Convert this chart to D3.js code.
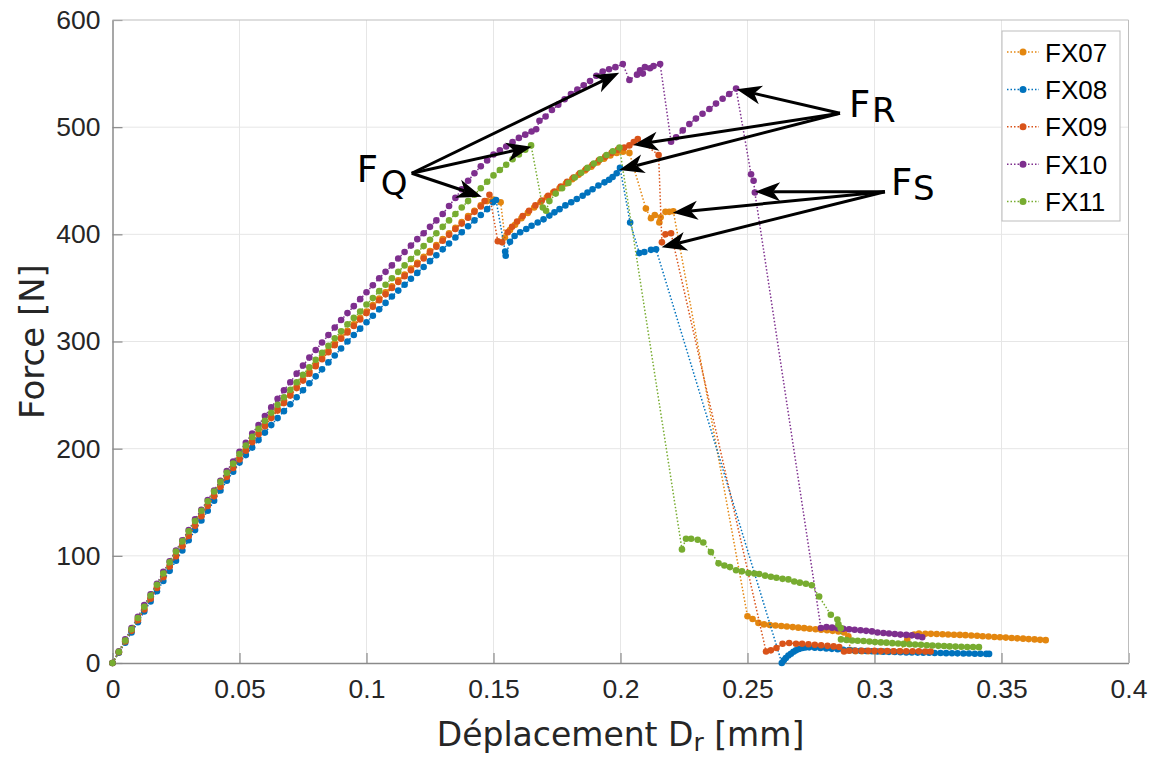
<!DOCTYPE html>
<html>
<head>
<meta charset="utf-8">
<script src="https://cdn.jsdelivr.net/npm/d3@7"></script>
<style>
  body { margin: 0; background: #fff; }
  svg { display: block; }
</style>
</head>
<body>
<div id="chart"></div>
<script>
// Force / displacement curves, [displacement mm, force N]
const fx07 = [[0,0],[0.0025,10],[0.005,20],[0.0075,30],[0.01,40.5],[0.0125,50.5],[0.015,60.5],[0.0175,70.5],[0.02,80.5],[0.0225,90.5],[0.025,100.5],[0.0275,110],[0.03,119.5],[0.0325,129],[0.035,138.5],[0.0375,147.5],[0.04,156.5],[0.0425,165.5],[0.045,174.5],[0.0475,183],[0.05,191.5],[0.0525,199.5],[0.055,207.5],[0.0575,215],[0.06,222.5],[0.0625,230],[0.065,237],[0.0675,244],[0.07,251],[0.0725,258],[0.075,265],[0.0775,272],[0.08,278.5],[0.0825,285],[0.085,291.5],[0.0875,298],[0.09,304],[0.0925,310],[0.095,316],[0.0975,322],[0.1,328],[0.1025,334],[0.105,340],[0.1075,346],[0.11,351.5],[0.1125,357],[0.115,362.5],[0.1175,368],[0.12,373.5],[0.1225,379],[0.125,384.5],[0.1275,390],[0.13,395.5],[0.1325,401],[0.135,406],[0.1375,411.5],[0.14,417],[0.1425,422],[0.145,427],[0.1475,431],[0.15,432.5],[0.1528,430],[0.1545,397],[0.1565,404],[0.1585,409],[0.161,415],[0.1635,420],[0.166,425],[0.1685,430],[0.171,434.5],[0.1735,439],[0.176,443],[0.1785,447.5],[0.181,451.5],[0.1835,455.5],[0.186,459.5],[0.1885,463],[0.191,467],[0.1935,470.5],[0.196,473.5],[0.1985,476],[0.201,477],[0.2035,476],[0.21,424],[0.212,415],[0.2135,418],[0.2153,411],[0.2158,416],[0.2177,421],[0.2192,421],[0.2208,421.5],[0.25,43.6],[0.252,41],[0.2543,37.4],[0.2565,36],[0.2588,35.5],[0.261,35],[0.2633,34.5],[0.2655,34],[0.2678,33.5],[0.27,33],[0.2723,32.5],[0.2745,32],[0.2768,31.5],[0.279,31],[0.2813,30.5],[0.2835,30],[0.2858,29.5],[0.288,28.5],[0.2897,25],[0.2905,12],[0.2925,11],[0.295,11],[0.2975,11],[0.3,11],[0.3025,10.8],[0.305,10.8],[0.3075,10.8],[0.31,11],[0.3129,21.8],[0.3156,26.5],[0.3175,27.4],[0.32,27.3],[0.3222,27.2],[0.3245,27],[0.3268,26.8],[0.329,26.6],[0.3313,26.4],[0.3336,26.2],[0.3358,26],[0.3381,25.7],[0.3404,25.4],[0.3426,25],[0.3449,24.7],[0.3472,24.3],[0.3494,24],[0.3517,23.7],[0.354,23.3],[0.3562,23],[0.3585,22.7],[0.3607,22.3],[0.363,22],[0.3652,21.6],[0.3674,21.3]];

const fx08 = [[0,0],[0.0025,9.5],[0.005,19],[0.0075,28.5],[0.01,38],[0.0125,48],[0.015,57.5],[0.0175,67],[0.02,76.5],[0.0225,86],[0.025,95.5],[0.0275,105],[0.03,114.5],[0.0325,124],[0.035,133],[0.0375,142],[0.04,151.5],[0.0425,161],[0.045,170],[0.0475,178.5],[0.05,187],[0.0525,194],[0.055,201],[0.0575,208],[0.06,215],[0.0625,222],[0.065,228.5],[0.0675,235],[0.07,241.5],[0.0725,248],[0.075,254.5],[0.0775,261],[0.08,267.5],[0.0825,274],[0.085,280.5],[0.0875,287],[0.09,293.5],[0.0925,300],[0.095,306],[0.0975,312],[0.1,318],[0.1025,324],[0.105,330],[0.1075,336],[0.11,342],[0.1125,347.5],[0.115,353],[0.1175,358.5],[0.12,364],[0.1225,369.5],[0.125,375],[0.1275,380.5],[0.13,386],[0.1325,391.5],[0.135,397],[0.1375,402],[0.14,407.5],[0.1425,413],[0.145,418],[0.1475,423.5],[0.1498,430],[0.151,432],[0.1546,384],[0.1548,380],[0.1565,393],[0.1583,398.5],[0.1605,402],[0.1629,405],[0.165,408],[0.1674,411],[0.1697,414],[0.172,417.5],[0.174,420.5],[0.176,423.5],[0.1783,427],[0.1806,430],[0.1828,433],[0.1851,436],[0.187,439],[0.189,442],[0.1913,445.5],[0.1937,448.5],[0.1955,451],[0.1969,453.5],[0.1985,457],[0.1998,462],[0.2038,411],[0.2074,382.5],[0.2094,383.5],[0.212,385.5],[0.214,386],[0.2635,0],[0.2643,2.5],[0.2651,4.7],[0.2661,7],[0.2671,8.7],[0.2681,10.5],[0.2691,11.8],[0.2703,13],[0.2716,14],[0.2728,14.5],[0.2743,14.6],[0.2765,14.3],[0.2787,14],[0.281,13.6],[0.2832,13.2],[0.2855,12.8],[0.2877,12.4],[0.29,12],[0.2922,11.7],[0.2945,11.4],[0.2967,11.2],[0.299,11],[0.3012,10.8],[0.3035,10.6],[0.3057,10.4],[0.308,10.2],[0.3102,10],[0.3125,9.9],[0.3147,9.8],[0.317,9.7],[0.3192,9.6],[0.3215,9.5],[0.3237,9.4],[0.326,9.3],[0.3282,9.2],[0.3305,9.1],[0.3327,9],[0.335,8.9],[0.3372,8.8],[0.3395,8.7],[0.3417,8.6],[0.344,8.5],[0.3451,8.5]];

const fx09 = [[0,0],[0.0025,10],[0.005,20],[0.0075,30],[0.01,40],[0.0125,50],[0.015,60],[0.0175,70],[0.02,80],[0.0225,90],[0.025,99.5],[0.0275,109],[0.03,118.5],[0.0325,128],[0.035,137],[0.0375,146.5],[0.04,155.5],[0.0425,164.5],[0.045,173.5],[0.0475,182],[0.05,190],[0.0525,198],[0.055,206],[0.0575,213.5],[0.06,221],[0.0625,228.5],[0.065,235.5],[0.0675,242.5],[0.07,249.5],[0.0725,256.5],[0.075,263.5],[0.0775,270],[0.08,277],[0.0825,283.5],[0.085,290],[0.0875,296.5],[0.09,302.5],[0.0925,308.5],[0.095,314.5],[0.0975,320.5],[0.1,326.5],[0.1025,332.5],[0.105,338.5],[0.1075,344],[0.11,350],[0.1125,355.5],[0.115,361],[0.1175,366.5],[0.12,372],[0.1225,377.5],[0.125,383],[0.1275,388.5],[0.13,394],[0.1325,399.5],[0.135,405],[0.1375,410],[0.14,415.5],[0.1425,421],[0.145,426],[0.1465,431],[0.1484,437],[0.1517,393.5],[0.1534,392.5],[0.1556,402],[0.1573,407],[0.1593,412],[0.1615,417],[0.164,422],[0.1665,427],[0.169,431.5],[0.1715,436],[0.174,440],[0.1765,444.5],[0.179,449],[0.1815,453],[0.184,457],[0.1865,461],[0.189,465],[0.1915,469],[0.194,472.5],[0.1965,476],[0.199,479],[0.2015,481],[0.2035,483],[0.2052,486],[0.2068,489],[0.215,474],[0.2163,392.5],[0.2177,400],[0.2199,401],[0.2573,10.8],[0.2592,11.8],[0.2614,14],[0.2638,18],[0.2664,18.7],[0.2691,18],[0.2715,18],[0.274,17.5],[0.2765,17],[0.279,16.5],[0.2815,16],[0.2839,15.5],[0.2861,15],[0.288,10.8],[0.29,11.5],[0.2925,11.5],[0.295,11.5],[0.2975,11.5],[0.3,11.3],[0.3025,11.2],[0.305,11.2],[0.3075,11],[0.31,11],[0.3125,11],[0.315,11],[0.3175,10.9],[0.32,10.8],[0.3221,10.8]];

const fx10 = [[0,0],[0.0025,11],[0.005,22],[0.0075,32.5],[0.01,43],[0.0125,54],[0.015,64],[0.0175,74],[0.02,85],[0.0225,95],[0.025,105],[0.0275,114.5],[0.03,124],[0.0325,134],[0.035,143],[0.0375,152],[0.04,161],[0.0425,170],[0.045,179],[0.0475,188],[0.05,197],[0.0525,205.5],[0.055,214],[0.0575,222],[0.06,230.5],[0.0625,238.5],[0.065,246.5],[0.0675,254.5],[0.07,262],[0.0725,270],[0.075,277.5],[0.0775,285],[0.08,292],[0.0825,299],[0.085,306],[0.0875,313],[0.09,320],[0.0925,326.5],[0.095,333],[0.0975,339.5],[0.1,346],[0.1025,352.5],[0.105,359],[0.1075,365],[0.11,371],[0.1125,377.5],[0.115,383.5],[0.1175,389.5],[0.12,395.5],[0.1225,401],[0.125,407],[0.1275,413],[0.13,419],[0.1325,426.5],[0.135,434],[0.1375,442],[0.14,450],[0.1425,457],[0.145,463.5],[0.1475,469],[0.15,474.5],[0.1525,478.5],[0.155,482],[0.1575,486],[0.16,490],[0.1625,493],[0.165,496],[0.1668,498],[0.1681,506],[0.1705,510],[0.173,516],[0.1755,521],[0.178,526],[0.1805,531],[0.183,535],[0.1855,539],[0.188,543],[0.1905,548],[0.193,552],[0.1955,554],[0.198,556],[0.2009,559],[0.2035,544],[0.2065,549],[0.2077,553],[0.2088,550],[0.2096,556],[0.2116,555],[0.213,557],[0.2156,559],[0.2199,486.5],[0.2219,490.5],[0.2245,497],[0.2271,503],[0.2297,508],[0.2323,512.5],[0.235,517],[0.2376,522],[0.2402,526.5],[0.2428,531],[0.2455,536],[0.2514,456],[0.2524,450],[0.2529,439],[0.2789,32.7],[0.2811,33.5],[0.2833,33],[0.2855,32.5],[0.2877,32],[0.29,31.5],[0.2922,31],[0.2945,30.5],[0.2967,30],[0.299,29.5],[0.3012,28.5],[0.3035,28],[0.3057,27.5],[0.308,27],[0.3102,26.5],[0.3125,26.2],[0.3147,25.8],[0.317,25],[0.3188,24]];

const fx11 = [[0,0],[0.0025,10.5],[0.005,21],[0.0075,31.5],[0.01,42],[0.0125,52.5],[0.015,63],[0.0175,73],[0.02,83.5],[0.0225,94],[0.025,104],[0.0275,113.5],[0.03,123],[0.0325,132.5],[0.035,142],[0.0375,151],[0.04,160],[0.0425,169],[0.045,177.5],[0.0475,186],[0.05,195],[0.0525,203],[0.055,211],[0.0575,218.5],[0.06,226],[0.0625,233.5],[0.065,241],[0.0675,248],[0.07,255],[0.0725,262],[0.075,269],[0.0775,276],[0.08,283],[0.0825,289.5],[0.085,296],[0.0875,303],[0.09,309.5],[0.0925,316],[0.095,322],[0.0975,328],[0.1,334.5],[0.1025,340.5],[0.105,347],[0.1075,353],[0.11,359],[0.1125,365],[0.115,371],[0.1175,377],[0.12,383],[0.1225,389],[0.125,395],[0.1275,401],[0.13,407],[0.1325,413],[0.135,419],[0.1375,425],[0.14,431],[0.1425,437],[0.145,443],[0.1475,449],[0.15,455],[0.1525,460],[0.155,465],[0.1575,470],[0.16,474.5],[0.1625,479],[0.1648,483],[0.1694,425],[0.1707,422],[0.172,431],[0.1745,438],[0.177,443],[0.1795,448],[0.182,453],[0.1845,457.5],[0.187,462],[0.1895,466],[0.192,470],[0.1945,474],[0.197,477.5],[0.1996,481],[0.2242,106],[0.2258,116],[0.2278,116],[0.2304,115],[0.2326,112.5],[0.2356,103.5],[0.2386,93],[0.2409,91],[0.2431,89.5],[0.2455,86.5],[0.2478,85.5],[0.2504,84],[0.2527,83.5],[0.2546,83],[0.2569,81.5],[0.2592,80.5],[0.2614,79.5],[0.2638,78.5],[0.2661,78],[0.2684,76],[0.2706,75],[0.273,74],[0.2753,72.5],[0.2782,62],[0.2828,45],[0.2854,40.5],[0.2858,36],[0.2867,32.5],[0.2868,22],[0.289,21.5],[0.2912,21],[0.2934,20.8],[0.2957,20.5],[0.298,20],[0.3002,19.5],[0.3025,19.2],[0.3047,19],[0.307,18.5],[0.3093,18.2],[0.3115,17.8],[0.3138,17.5],[0.316,17.2],[0.3183,17],[0.3206,16.6],[0.3228,16.3],[0.3251,16],[0.3274,15.8],[0.3296,15.5],[0.3319,15.3],[0.3342,15.1],[0.3365,15],[0.3388,14.9],[0.3411,14.8]];

const seriesNames = ["FX07", "FX08", "FX09", "FX10", "FX11"];
const seriesColors = ["#e3860f", "#0072bd", "#d95319", "#7e2f8e", "#77ac30"];
const seriesData = [fx07, fx08, fx09, fx10, fx11];

const xTicks = [0, 0.05, 0.1, 0.15, 0.2, 0.25, 0.3, 0.35, 0.4];
const xTickLabels = ["0", "0.05", "0.1", "0.15", "0.2", "0.25", "0.3", "0.35", "0.4"];
const yTicks = [0, 100, 200, 300, 400, 500, 600];

// annotation arrows: label subscript, start point, arrow tips (data units)
const annLabels = ["Q", "R", "S"];
const annStarts = [[0.1178, 457], [0.2864, 513], [0.3041, 439.8]];
const annTips = [
    [[0.1995, 550.8], [0.165, 481.8], [0.1454, 435.1]],
    [[0.2457, 535.3], [0.205, 483.3], [0.1995, 460]],
    [[0.253, 439.8], [0.2206, 420.2], [0.2162, 387.9]]
];

const W = 1156, H = 759;
const margin = { top: 20, right: 27.5, bottom: 96, left: 112.5 };
const width = W - margin.left - margin.right;
const height = H - margin.top - margin.bottom;

const svg = d3.select("#chart").append("svg")
    .attr("width", W)
    .attr("height", H)
    .style("background", "#fff");

const g = svg.append("g")
    .attr("transform", "translate(" + margin.left + "," + margin.top + ")");

const x = d3.scaleLinear().domain([0, 0.4]).range([0, width]);
const y = d3.scaleLinear().domain([0, 600]).range([height, 0]);

// grid
g.append("g").selectAll("line").data(xTicks.slice(1, -1)).enter().append("line")
    .attr("x1", d => x(d)).attr("x2", d => x(d))
    .attr("y1", 0).attr("y2", height)
    .attr("stroke", "#e6e6e6").attr("stroke-width", 1);
g.append("g").selectAll("line").data(yTicks.slice(1, -1)).enter().append("line")
    .attr("x1", 0).attr("x2", width)
    .attr("y1", d => y(d)).attr("y2", d => y(d))
    .attr("stroke", "#e6e6e6").attr("stroke-width", 1);

// axes (ticks pointing inside, like matlab)
const axisColor = "#8a8a8a";
const xAxis = g.append("g")
    .attr("transform", "translate(0," + height + ")")
    .call(d3.axisBottom(x).tickValues(xTicks).tickFormat((d, i) => xTickLabels[i]).tickSizeInner(-10).tickSizeOuter(0).tickPadding(16));
const yAxis = g.append("g")
    .call(d3.axisLeft(y).tickValues(yTicks).tickSizeInner(-10).tickSizeOuter(0).tickPadding(12));

[xAxis, yAxis].forEach(a => {
    a.select(".domain").attr("stroke", axisColor).attr("stroke-width", 1.5);
    a.selectAll(".tick line").attr("stroke", axisColor).attr("stroke-width", 1.2);
    a.selectAll(".tick text")
        .attr("fill", "#262626")
        .style("font-family", "'Liberation Sans', Arial, sans-serif")
        .style("font-size", "26.5px");
});

// top and right box edges
g.append("line").attr("x1", 0).attr("x2", width).attr("y1", 0).attr("y2", 0)
    .attr("stroke", "#bdbdbd").attr("stroke-width", 1);
g.append("line").attr("x1", width).attr("x2", width).attr("y1", 0).attr("y2", height)
    .attr("stroke", "#bdbdbd").attr("stroke-width", 1);

// series
const line = d3.line().x(d => x(d[0])).y(d => y(d[1]));
seriesData.forEach((data, i) => {
    const sg = g.append("g");
    sg.append("path")
        .datum(data)
        .attr("d", line)
        .attr("fill", "none")
        .attr("stroke", seriesColors[i])
        .attr("stroke-width", 1.5)
        .attr("stroke-dasharray", "1.5,2");
    sg.selectAll("circle").data(data).enter().append("circle")
        .attr("cx", d => x(d[0]))
        .attr("cy", d => y(d[1]))
        .attr("r", 3.3)
        .attr("fill", seriesColors[i]);
});

// annotations
function arrowHead(x1, y1, x2, y2) {
    const a = Math.atan2(y2 - y1, x2 - x1);
    const len = 25, half = 9.5, notch = 18;
    const bx = x2 - len * Math.cos(a), by = y2 - len * Math.sin(a);
    const nx = x2 - notch * Math.cos(a), ny = y2 - notch * Math.sin(a);
    const px = -Math.sin(a) * half, py = Math.cos(a) * half;
    return { path: "M" + x2 + "," + y2 + "L" + (bx + px) + "," + (by + py) + "L" + nx + "," + ny + "L" + (bx - px) + "," + (by - py) + "Z", nx: nx, ny: ny };
}

const labelOffsets = [[-55, 9], [9, 4], [6, 3]];
const subOffsets = [[-31, 22], [32, 9], [28, 8]];
annLabels.forEach((lab, i) => {
    const sx = x(annStarts[i][0]), sy = y(annStarts[i][1]);
    annTips[i].forEach(t => {
        const tx = x(t[0]), ty = y(t[1]);
        const h = arrowHead(sx, sy, tx, ty);
        g.append("line")
            .attr("x1", sx).attr("y1", sy)
            .attr("x2", h.nx).attr("y2", h.ny)
            .attr("stroke", "#000").attr("stroke-width", 3);
        g.append("path").attr("d", h.path).attr("fill", "#000");
    });
    g.append("text")
        .attr("x", sx + labelOffsets[i][0])
        .attr("y", sy + labelOffsets[i][1])
        .style("font-family", "'DejaVu Sans', sans-serif")
        .style("font-size", "37px")
        .text("F");
    g.append("text")
        .attr("x", sx + subOffsets[i][0])
        .attr("y", sy + subOffsets[i][1])
        .style("font-family", "'DejaVu Sans', sans-serif")
        .style("font-size", "34px")
        .text(lab);
});

// legend
const legend = svg.append("g").attr("transform", "translate(1002,31)");
legend.append("rect")
    .attr("width", 118).attr("height", 190)
    .attr("fill", "#fff").attr("stroke", "#bdbdbd").attr("stroke-width", 1);
seriesNames.forEach((name, i) => {
    const ly = 21 + i * 37.4;
    legend.append("line")
        .attr("x1", 5).attr("x2", 37).attr("y1", ly).attr("y2", ly)
        .attr("stroke", seriesColors[i]).attr("stroke-width", 1.5)
        .attr("stroke-dasharray", "1.5,2");
    legend.append("circle").attr("cx", 21).attr("cy", ly).attr("r", 3.5).attr("fill", seriesColors[i]);
    legend.append("text")
        .attr("x", 43).attr("y", ly + 9.5)
        .style("font-family", "'Liberation Sans', Arial, sans-serif")
        .style("font-size", "26px")
        .attr("fill", "#000")
        .text(name);
});

// axis titles
svg.append("text")
    .attr("transform", "translate(44," + (margin.top + height / 2) + ") rotate(-90)")
    .attr("text-anchor", "middle")
    .style("font-family", "'DejaVu Sans', sans-serif")
    .style("font-size", "34px")
    .attr("fill", "#262626")
    .text("Force [N]");

const xt = svg.append("text")
    .attr("x", margin.left + width / 2)
    .attr("y", 746)
    .attr("text-anchor", "middle")
    .style("font-family", "'DejaVu Sans', sans-serif")
    .style("font-size", "33px")
    .attr("fill", "#262626");
xt.append("tspan").text("Déplacement D");
xt.append("tspan").attr("dy", 5).style("font-size", "25px").text("r");
xt.append("tspan").attr("dy", -5).text(" [mm]");
</script>
</body>
</html>
